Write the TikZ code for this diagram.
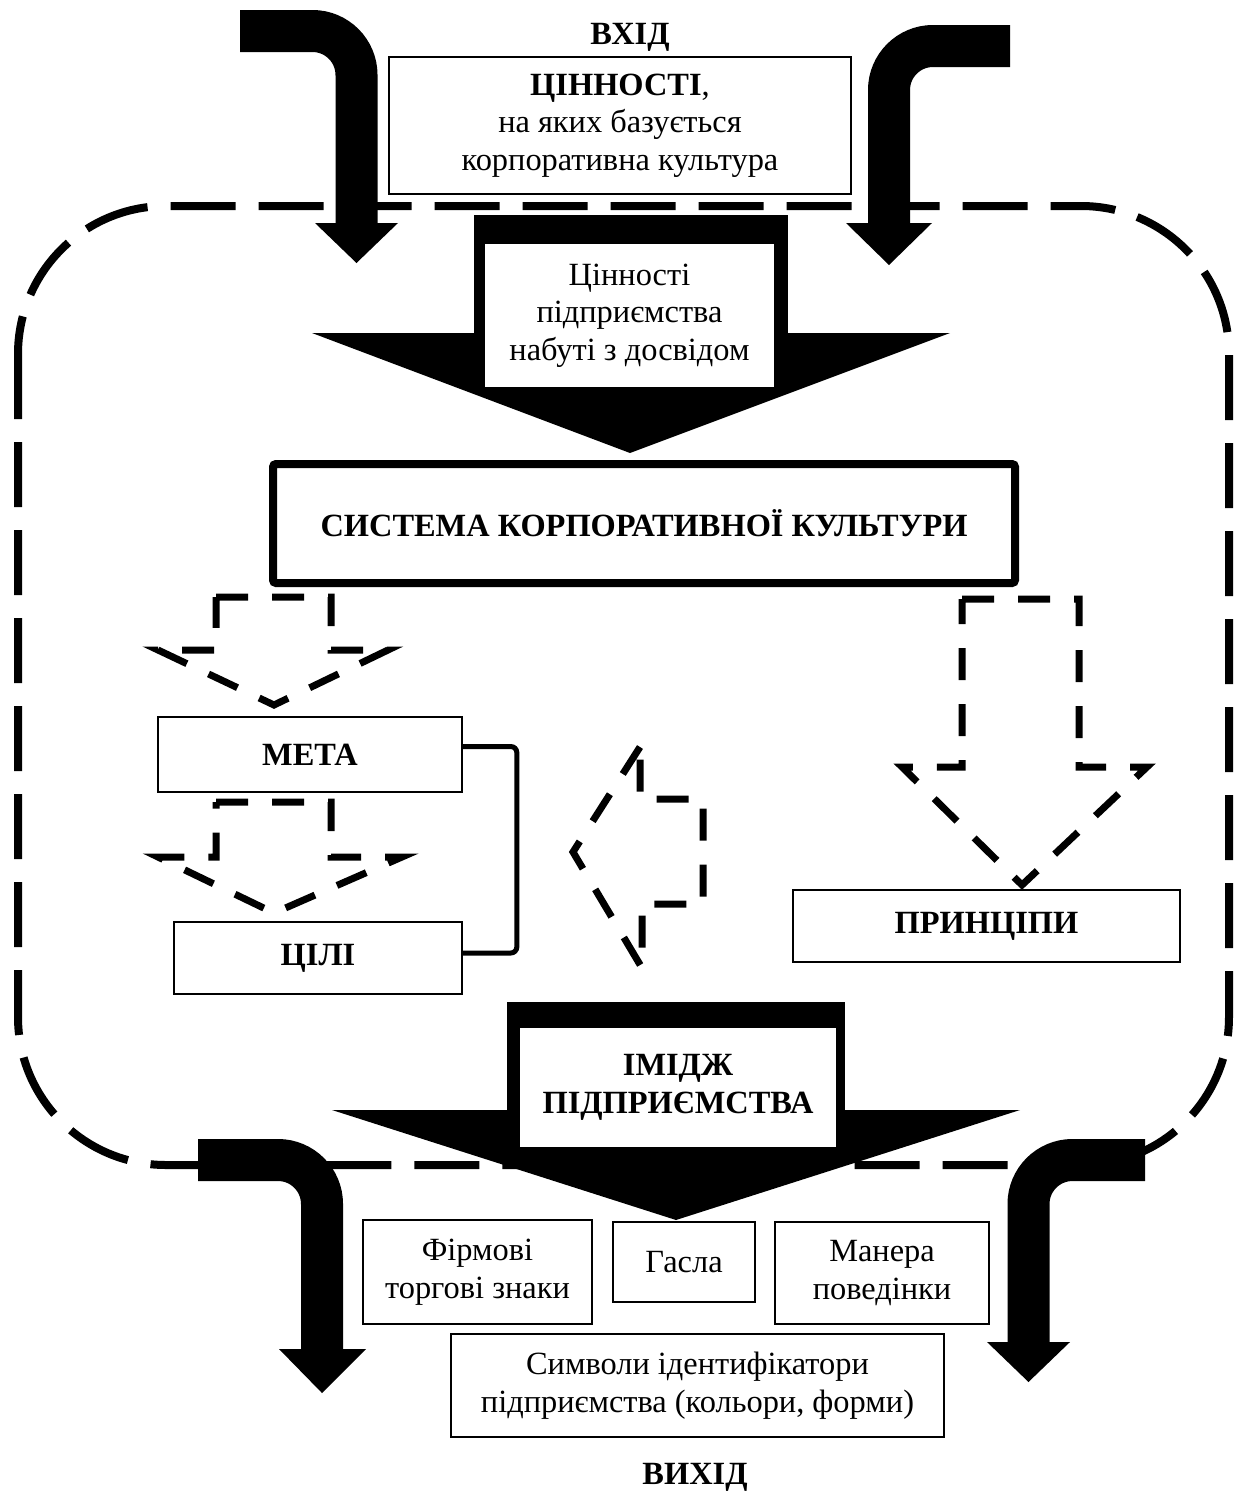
\documentclass[tikz,border=0pt]{standalone}
\usepackage{fontspec}
\setmainfont{Liberation Serif}
\tikzset{
    > = stealth,
    every node/.style = {font=\fontsize{16.2}{18.8}\selectfont, align=center, inner sep=0pt},
    box/.style = {draw, line width=0.8pt},
    bigbox/.style = {draw, line width=4pt, rounded corners=1.5pt},
    hole/.style = {fill=white},
    bentshaft/.style = {line width=21pt, rounded corners=22pt},
    frame/.style = {line width=4pt, dash pattern=on 32.5pt off 11.5pt, rounded corners=74pt},
    dasharrow/.style = {line width=3.5pt, dash pattern=on 16pt off 12pt},
    bracket/.style = {line width=2.5pt, rounded corners=3pt},
    bold/.style = {font=\fontsize{16.2}{18.8}\selectfont\bfseries}
}

\begin{document}
\begin{tikzpicture}[x=0.5pt, y=-0.5pt]
    \useasboundingbox (0,0) rectangle (1240,1495);

    % dashed border of the system
    \draw[frame] (18,206) rectangle (1229,1165);

    % input and output arrows
    \draw[bentshaft] (240,31) -| (356.5,223);
    \fill (315,223) -- (398,223) -- (356.5,263) -- cycle;
    \draw[bentshaft] (1010,46) -| (889,223);
    \fill (846,223) -- (932,223) -- (889,265) -- cycle;
    \draw[bentshaft] (198,1160) -| (322,1349);
    \fill (279,1349) -- (366,1349) -- (322,1393) -- cycle;
    \draw[bentshaft] (1145,1160) -| (1028.5,1342);
    \fill (987,1342) -- (1070,1342) -- (1028.5,1382) -- cycle;

    % big black arrows
    \fill (474,215) rectangle (788,333);
    \fill (312,333) -- (950,333) -- (630,453) -- cycle;
    \fill (507,1002) rectangle (845,1110);
    \fill (332,1110) -- (1020,1110) -- (676,1220) -- cycle;

    \node[bold] (vhid) at (630,37) {ВХІД};
    \node[box, minimum width=231pt, minimum height=68.5pt] (cinn) at (620,125.5)
        {\textbf{ЦІННОСТІ},\\на яких базується\\корпоративна культура};
    \node[hole, minimum width=144.5pt, minimum height=71.5pt] (dosvid) at (629.5,315.5)
        {Цінності\\підприємства\\набуті з досвідом};
    \node[bigbox, bold, minimum width=371pt, minimum height=59.5pt] (sys) at (644,523.5)
        {СИСТЕМА КОРПОРАТИВНОЇ КУЛЬТУРИ};

    \node[box, bold, minimum width=152pt, minimum height=37.5pt] (meta) at (310,754.5) {МЕТА};
    \node[box, bold, minimum width=144pt, minimum height=36pt] (cili) at (318,958) {ЦІЛІ};
    \node[box, bold, minimum width=193.5pt, minimum height=36pt] (princ) at (986.5,926) {ПРИНЦІПИ};

    \draw[bracket] ([yshift=4pt]meta.east) -- ++(54,0) |- ([yshift=2.5pt]cili.east);

    % dashed block arrows
    \draw[dasharrow] (216,597) -- (331,597) -- (331,650) -- (388,650) -- (274,705) -- (158,650) -- (216,650) -- cycle;
    \draw[dasharrow] (216,802) -- (331,802) -- (331,857) -- (402,857) -- (274,913) -- (158,857) -- (216,857) -- cycle;
    \draw[dasharrow] (962,599) -- (1079,599) -- (1079,767) -- (1147,767) -- (1022,885) -- (902,767) -- (962,767) -- cycle;
    \draw[dasharrow] (640,747) -- (573,852) -- (642,968) -- (642,904) -- (703,904) -- (703,799) -- (640,799) -- cycle;

    \node[hole, bold, minimum width=158pt, minimum height=59.5pt] (imidzh) at (678,1087.5)
        {ІМІДЖ\\ПІДПРИЄМСТВА};

    \node[box, minimum width=114.5pt, minimum height=52pt] (firm) at (477.5,1272) {Фірмові\\торгові знаки};
    \node[box, minimum width=71pt, minimum height=40pt] (hasla) at (684,1262) {Гасла};
    \node[box, minimum width=107pt, minimum height=51pt] (manera) at (882,1273) {Манера\\поведінки};
    \node[box, minimum width=246.5pt, minimum height=51.5pt] (symb) at (697.5,1385.5)
        {Символи ідентифікатори\\підприємства (кольори, форми)};
    \node[bold] (vyhid) at (695,1477) {ВИХІД};
\end{tikzpicture}
\end{document}
